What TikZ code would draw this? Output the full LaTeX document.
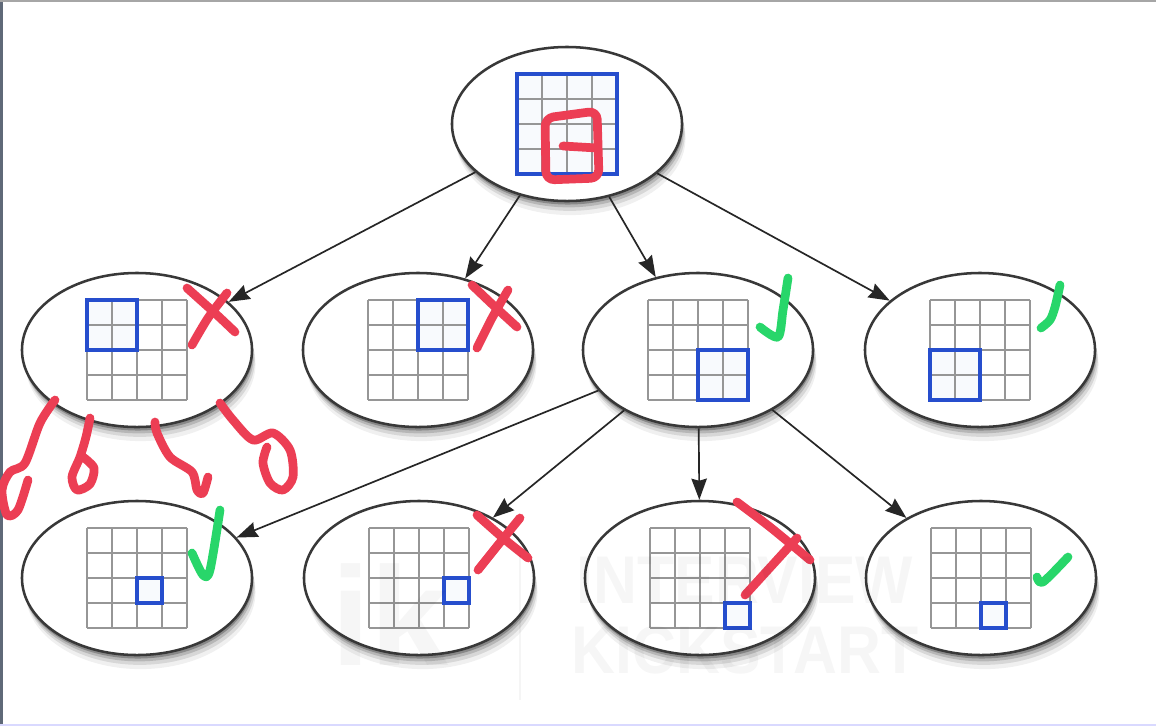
\documentclass[tikz,border=0pt]{standalone}
\usepackage{fontspec}
\newfontfamily\markfont{Liberation Sans}
\usetikzlibrary{shapes.geometric, arrows.meta, shadows}
\definecolor{gridblue}{RGB}{38, 78, 205}
\definecolor{cellgray}{RGB}{150, 150, 150}
\definecolor{inkred}{RGB}{236, 62, 84}
\definecolor{inkgreen}{RGB}{40, 214, 106}
\definecolor{framegray}{RGB}{95, 105, 120}

% 4x4 board inside a node: node, first col, first row, cols, rows of the blue window
\newcommand{\boardgrid}[5]{%
  \begin{scope}[shift={(#1.center)}]
    \fill[gridblue!3] (-50+25*#2,-50+25*#3) rectangle ++(25*#4,25*#5);
    \foreach \k in {0,...,4} {
      \draw[gridline] (-50+25*\k,-50) -- (-50+25*\k,50);
      \draw[gridline] (-50,-50+25*\k) -- (50,-50+25*\k);
    }
    \draw[blueframe] (-50+25*#2,-50+25*#3) rectangle ++(25*#4,25*#5);
  \end{scope}}

\begin{document}
\begin{tikzpicture}[
    x=0.025cm, y=-0.025cm,
    softshadow/.style={
      general shadow={fill=black, opacity=0.06, shadow xshift=2.5pt, shadow yshift=-10pt},
      general shadow={fill=black, opacity=0.10, shadow xshift=2pt, shadow yshift=-7pt},
      general shadow={fill=black, opacity=0.15, shadow xshift=1.2pt, shadow yshift=-4.5pt},
      general shadow={fill=black, opacity=0.25, shadow xshift=0.6pt, shadow yshift=-2.5pt}},
    board/.style={ellipse, draw=black!78, line width=1.8pt, fill=white, inner sep=0pt,
      minimum width=5.75cm, minimum height=3.85cm, softshadow},
    gridline/.style={draw=cellgray, line width=1.4pt},
    blueframe/.style={draw=gridblue, line width=2.5pt, line join=miter},
    link/.style={draw=black!85, line width=1.2pt, -{Stealth[length=15pt, width=11pt, inset=1.5pt]}},
    ink/.style={line width=6.2pt, line cap=round, line join=round},
    redink/.style={ink, draw=inkred},
    greenink/.style={ink, draw=inkgreen},
    wmtext/.style={text=black, text opacity=0.035, inner sep=0pt}
]
    \fill[white] (0,0) rectangle (1156,726);
    \useasboundingbox (0,0) rectangle (1156,726);
    \draw[framegray, line width=2.2pt] (1.5,0) -- (1.5,726);
    \draw[black!35, line width=1pt] (0,1) -- (1156,1);
    \draw[blue!15, line width=1.2pt] (0,725) -- (1156,725);

    \node[board] (root) at (567,124) {};

    \node[board] (quadTL) at (137,350) {};
    \node[board] (quadTR) at (418,350) {};
    \node[board] (quadBR) at (698,350) {};
    \node[board] (quadBL) at (980,350) {};

    \node[board] (cellTL) at (137,578) {};
    \node[board] (cellTR) at (419,578) {};
    \node[board] (cellBR) at (700,578) {};
    \node[board] (cellBL) at (981,578) {};

    \boardgrid{root}{0}{0}{4}{4}
    \boardgrid{quadTL}{0}{0}{2}{2}
    \boardgrid{quadTR}{2}{0}{2}{2}
    \boardgrid{quadBR}{2}{2}{2}{2}
    \boardgrid{quadBL}{0}{2}{2}{2}
    \boardgrid{cellTL}{2}{2}{1}{1}
    \boardgrid{cellTR}{3}{2}{1}{1}
    \boardgrid{cellBR}{3}{3}{1}{1}
    \boardgrid{cellBL}{2}{3}{1}{1}

    \draw[link] (root) -- (quadTL);
    \draw[link] (root) -- (quadTR);
    \draw[link] (root) -- (quadBR);
    \draw[link] (root) -- (quadBL);
    \draw[link] (quadBR) -- (cellTL);
    \draw[link] (quadBR) -- (cellTR);
    \draw[link] (quadBR) -- (cellBR);
    \draw[link] (quadBR) -- (cellBL);

    % hand-drawn marks
    \draw[redink, rounded corners=6pt] (545,118) -- (597,111) -- (599,178) -- (546,180) -- cycle;
    \draw[redink] (563,146) -- (597,148);
    \draw[redink] plot[smooth] coordinates {(187,288) (217,315) (235,332)};
    \draw[redink] plot[smooth] coordinates {(227,293) (208,318) (192,345)};
    \draw[redink] plot[smooth] coordinates {(472,285) (493,305) (517,327)};
    \draw[redink] plot[smooth] coordinates {(508,290) (492,318) (477,348)};
    \draw[redink] plot[smooth] coordinates {(477,515) (503,538) (528,558)};
    \draw[redink] plot[smooth] coordinates {(520,518) (498,545) (478,570)};
    \draw[redink] plot[smooth] coordinates {(737,502) (770,527) (810,560)};
    \draw[redink] (797,538) -- (745,595);
    \draw[redink] plot[smooth] coordinates {(55,400) (40,423) (25,463) (10,472) (2,490) (7,515) (18,510) (28,480)};
    \draw[redink] plot[smooth] coordinates {(90,418) (86,437) (80,457) (72,477) (77,490) (90,484) (94,468) (83,457)};
    \draw[redink] plot[smooth] coordinates {(155,422) (157,433) (170,457) (192,472) (197,490) (203,493) (208,477)};
    \draw[redink] plot[smooth] coordinates {(220,403) (233,420) (253,440) (273,433) (290,450) (293,477) (283,490) (270,483) (263,463) (267,447)};
    \draw[greenink] plot[smooth] coordinates {(760,327) (778,337) (783,310) (788,278)};
    \draw[greenink] plot[smooth] coordinates {(1041,328) (1050,320) (1055,307) (1060,285)};
    \draw[greenink] plot[smooth] coordinates {(192,553) (203,575) (210,570) (220,510)};
    \draw[greenink] plot[smooth] coordinates {(1037,577) (1043,582) (1068,557)};

    % watermark
    \node[wmtext, font=\markfont\bfseries\fontsize{48}{48}\selectfont, xscale=0.9] (wmtop) at (745,580) {INTERVIEW};
    \node[wmtext, font=\markfont\bfseries\fontsize{48}{48}\selectfont, xscale=0.9] (wmbot) at (745,650) {KICKSTART};
    \node[wmtext, font=\markfont\bfseries\fontsize{100}{100}\selectfont] (wmlogo) at (390,615) {ik};
    \draw[black, opacity=0.04, line width=1pt] (520,555) -- (520,700);
\end{tikzpicture}
\end{document}
